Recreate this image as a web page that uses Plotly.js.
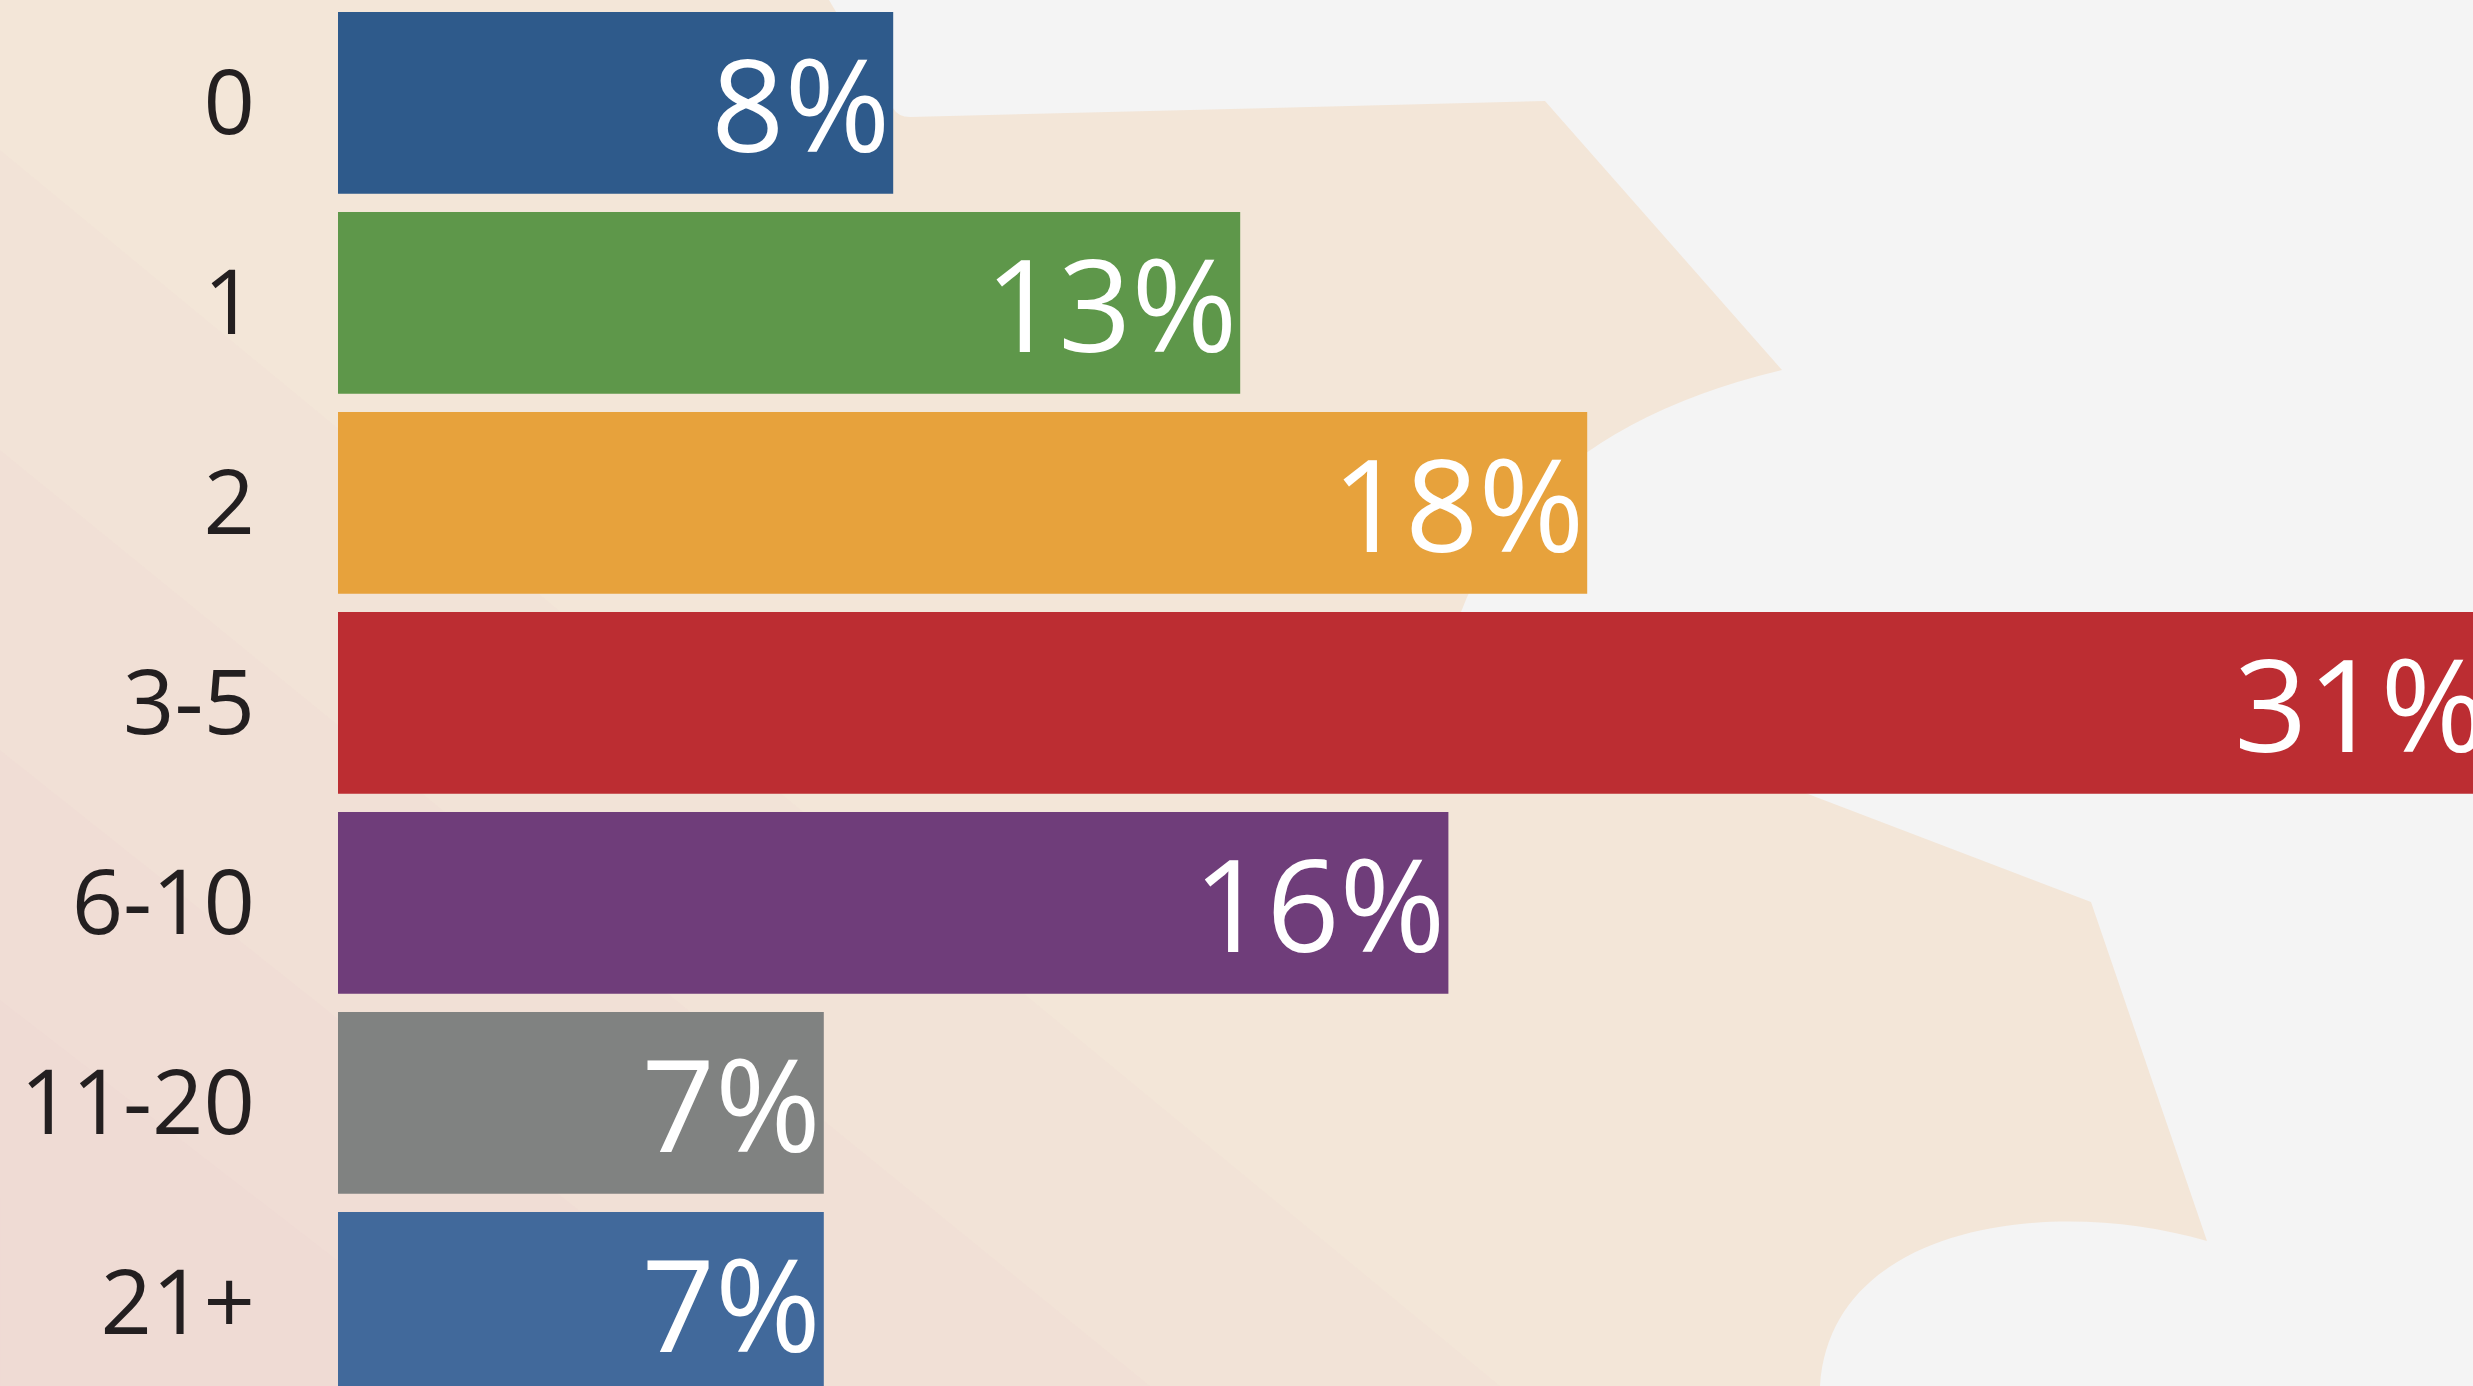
<!DOCTYPE html>
<html>
<head>
<meta charset="utf-8">
<script src="https://cdn.plot.ly/plotly-3.0.1.min.js"></script>
<style>
  html, body { margin: 0; padding: 0; overflow: hidden; background: #f4f4f4; }
  #chart { width: 2473px; height: 1386px; }
</style>
</head>
<body>
<div id="chart"></div>
<script>
// ---- data ----
const categories = ['0', '1', '2', '3-5', '6-10', '11-20', '21+'];
const shares = [8, 13, 18, 31, 16, 7, 7];
const barColors = ['#2e5a8b', '#5e974a', '#e7a23c', '#bc2d32', '#6f3d7a', '#808281', '#41699b'];

// ---- layout geometry (presentation only) ----
const W = 2473, H = 1386;
const ML = 338;
const PW = W - ML;

// convert pixel points to paper coordinates for decorative background shapes
function px(x) { return ((x - ML) / PW).toFixed(5); }
function py(y) { return ((H - y) / H).toFixed(5); }
function P(x, y) { return px(x) + ',' + py(y); }

const beigePath =
  'M ' + P(0, 0) +
  ' L ' + P(829, 0) +
  ' L ' + P(893, 108) +
  ' Q ' + P(898, 117) + ' ' + P(910, 117) +
  ' L ' + P(1545, 101) +
  ' L ' + P(1782, 370) +
  ' Q ' + P(1530, 430) + ' ' + P(1461, 612) +
  ' L ' + P(1808, 794) +
  ' L ' + P(2091, 902) +
  ' L ' + P(2207, 1241) +
  ' C ' + P(2050, 1195) + ' ' + P(1830, 1225) + ' ' + P(1820, 1386) +
  ' L ' + P(0, 1386) + ' Z';

const shapes = [
  { type: 'path', xref: 'paper', yref: 'paper', path: beigePath, fillcolor: '#f3e6d8', line: { width: 0 }, layer: 'below' }
];
// soft pinkish tint toward the lower-left corner, built from faint stacked layers
[[150, 1500], [450, 1150], [750, 800], [1000, 500]].forEach(function (pt) {
  shapes.push({
    type: 'path', xref: 'paper', yref: 'paper',
    path: 'M ' + P(0, pt[0]) + ' L ' + P(pt[1], 1386) + ' L ' + P(0, 1386) + ' Z',
    fillcolor: 'rgba(232,194,205,0.06)', line: { width: 0 }, layer: 'below'
  });
});

const trace = {
  type: 'bar',
  orientation: 'h',
  y: categories,
  x: shares,
  marker: { color: barColors, line: { width: 0 } },
  texttemplate: '%{x}%',
  textposition: 'inside',
  insidetextanchor: 'end',
  textangle: 0,
  textfont: { family: 'Open Sans, Noto Sans, sans-serif', size: 128, color: '#ffffff' },
  cliponaxis: true,
  hoverinfo: 'skip'
};

const layout = {
  width: W,
  height: H,
  margin: { l: ML, r: 0, t: 0, b: 0, pad: 0 },
  paper_bgcolor: '#f4f4f4',
  plot_bgcolor: 'rgba(0,0,0,0)',
  showlegend: false,
  bargap: 0.0915,
  xaxis: {
    range: [0, PW / 69.4],
    visible: false,
    showgrid: false,
    zeroline: false,
    fixedrange: true
  },
  yaxis: {
    type: 'category',
    range: [6.416, -0.514],
    ticks: '',
    ticklabelstandoff: 82,
    tickfont: { family: 'Open Sans, Noto Sans, sans-serif', size: 90, color: '#231f20' },
    showgrid: false,
    zeroline: false,
    showline: false,
    fixedrange: true
  },
  shapes: shapes
};

Plotly.newPlot('chart', [trace], layout, { displayModeBar: false, staticPlot: true });
</script>
</body>
</html>
